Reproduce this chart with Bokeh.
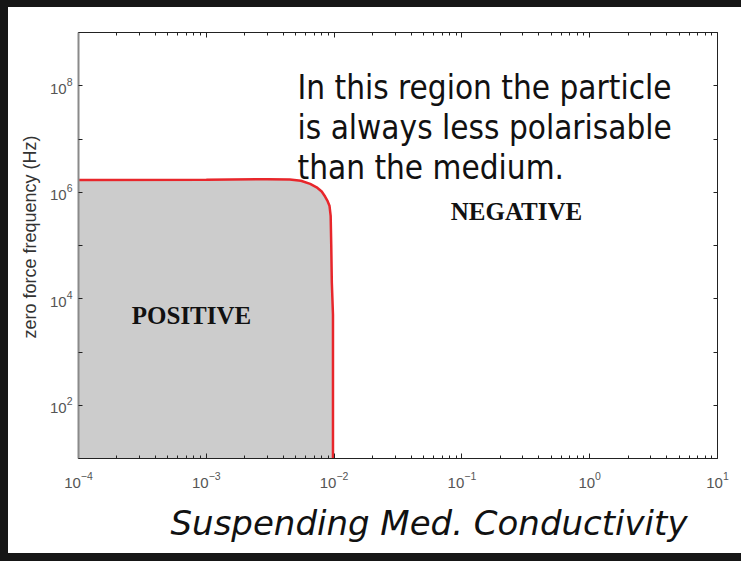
from math import pi
from bokeh.plotting import figure
from bokeh.models import LogAxis, FixedTicker, Label, Title, Div
from bokeh.layouts import column, row
from bokeh.embed import file_html
from bokeh.resources import INLINE

# ---- data ----
conductivity = [1e-4, 1e-3, 3e-3, 4.5e-3, 5.5e-3, 6.5e-3, 7.3e-3, 8.0e-3, 8.5e-3,
                8.9e-3, 9.2e-3, 9.4e-3, 9.5e-3, 9.6e-3, 9.8e-3, 9.8e-3]
zero_force_freq = [1.70e6, 1.72e6, 1.76e6, 1.74e6, 1.64e6, 1.44e6, 1.24e6, 1.03e6, 8.3e5,
                   6.8e5, 5.6e5, 3.6e5, 1.0e5, 2.0e4, 5e3, 1e1]

x_major = [1e-4, 1e-3, 1e-2, 1e-1, 1e0, 1e1]
x_minor = [m * 10.0 ** d for d in range(-4, 1) for m in range(2, 10)]
y_major = [1e2, 1e4, 1e6, 1e8]
y_minor = [1e1, 1e3, 1e5, 1e7, 1e9]

x_lo, x_hi = 1e-4, 1e1
y_lo, y_hi = 1e1, 1e9

note_lines = ["In this region the particle", "is always less polarisable", "than the medium."]

# page layout: dark frame bars around the figure
PAGE_W, PAGE_H = 741, 561
BAR_T, BAR_L, BAR_B = 7, 8, 8
W, H = PAGE_W - BAR_L, PAGE_H - BAR_T - BAR_B
# plot frame in page pixels
FX0, FX1, FY0, FY1 = 78, 717, 32, 458
BL, BR = FX0 - BAR_L, BAR_L + W - FX1
BT, BB = FY0 - BAR_T, BAR_T + H - FY1

def dx(px):
    # page pixel x -> data x (log axis), for text placement only
    return 10 ** (-4 + (px - FX0) / (FX1 - FX0) * 5)

def dy(py):
    return 10 ** (9 - (py - FY0) / (FY1 - FY0) * 8)

p = figure(width=W, height=H, x_axis_type="log", y_axis_type="log",
           x_range=(x_lo, x_hi), y_range=(y_lo, y_hi),
           output_backend="svg", toolbar_location=None,
           min_border_left=BL, min_border_right=BR, min_border_top=BT, min_border_bottom=BB)
p.margin = 0
p.outline_line_color = None
p.grid.visible = False
p.background_fill_color = "white"
p.border_fill_color = "white"

# filled region and boundary
p.varea(x=conductivity, y1=y_lo, y2=zero_force_freq, fill_color="#cccccc")
p.line(conductivity, zero_force_freq, line_color="#e8262b", line_width=2.5)

def style_x(ax, labels):
    ax.ticker = FixedTicker(ticks=x_major, minor_ticks=x_minor)
    ax.major_tick_in = 5
    ax.major_tick_out = 0
    ax.minor_tick_in = 3
    ax.minor_tick_out = 0
    ax.major_tick_line_color = "#222222"
    ax.minor_tick_line_color = "#222222"
    ax.axis_line_color = "#222222"
    ax.axis_line_width = 1
    ax.major_label_text_font = "Liberation Sans"
    ax.major_label_text_font_size = "15px"
    ax.major_label_text_color = "#555555"
    ax.major_label_standoff = 13
    if not labels:
        ax.major_label_text_alpha = 0
        ax.major_label_text_font_size = "2px"
        ax.major_label_standoff = 0

def style_y(ax, labels):
    ax.ticker = FixedTicker(ticks=y_major, minor_ticks=y_minor)
    ax.major_tick_in = 4
    ax.major_tick_out = 0
    ax.minor_tick_in = 4
    ax.minor_tick_out = 0
    ax.major_tick_line_color = "#222222"
    ax.minor_tick_line_color = "#222222"
    ax.major_label_text_font = "Liberation Sans"
    ax.major_label_text_font_size = "15px"
    ax.major_label_text_color = "#555555"
    ax.major_label_standoff = 6
    if labels:
        ax.axis_line_color = "#8a8a8a"
        ax.axis_line_width = 2
    else:
        ax.axis_line_color = "#222222"
        ax.axis_line_width = 1
        ax.major_label_text_alpha = 0
        ax.major_label_text_font_size = "2px"
        ax.major_label_standoff = 0

style_x(p.xaxis[0], True)
style_y(p.yaxis[0], True)
top = LogAxis()
style_x(top, False)
p.add_layout(top, "above")
right = LogAxis()
style_y(right, False)
p.add_layout(right, "right")

# axis titles
p.add_layout(Title(text="Suspending Med. Conductivity", align="left", offset=170 - FX0,
                   text_font="DejaVu Sans", text_font_style="italic", text_font_size="34px",
                   text_color="#111111", standoff=21), "below")
p.add_layout(Title(text="zero force frequency (Hz)", align="left", offset=FY1 - 338,
                   text_font="Liberation Sans", text_font_style="normal", text_font_size="18px",
                   text_color="#333333", standoff=14), "left")

# in-plot texts
for i, line in enumerate(note_lines):
    p.add_layout(Label(x=dx(297), y=dy([87, 127, 167][i]), text=line,
                       text_font="DejaVu Sans Condensed", text_font_size="33px",
                       text_color="#111111", text_baseline="alphabetic"))

p.add_layout(Label(x=dx(516), y=dy(211), text="NEGATIVE", text_font="Liberation Serif",
                   text_font_style="bold", text_font_size="25px", text_color="#111111",
                   text_align="center", text_baseline="middle"))
p.add_layout(Label(x=dx(191), y=dy(315), text="POSITIVE", text_font="Liberation Serif",
                   text_font_style="bold", text_font_size="25px", text_color="#111111",
                   text_align="center", text_baseline="middle"))

bar_style = {"background-color": "#161616"}
layout = column(
    Div(width=PAGE_W, height=BAR_T, styles=bar_style, margin=0),
    row(Div(width=BAR_L, height=H, styles=bar_style, margin=0), p, spacing=0, margin=0),
    Div(width=PAGE_W, height=BAR_B, styles=bar_style, margin=0),
    spacing=0, margin=0,
)

open("out.html", "w").write(file_html(layout, INLINE))
